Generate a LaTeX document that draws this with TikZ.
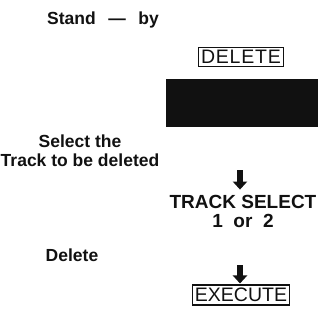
\documentclass[tikz,border=0pt]{standalone}
\usepackage{fontspec}
\setmainfont{Liberation Sans}
\usetikzlibrary{arrows.meta,positioning}
\definecolor{ink}{HTML}{111111}
\tikzset{
  lbl/.style={font=\fontsize{17.5}{19}\selectfont\bfseries, text=ink, align=center, inner sep=0pt},
  keybox/.style={draw=ink, line width=1.2pt, inner xsep=2.5pt, inner ysep=3pt,
    font=\fontsize{19.5}{20}\selectfont, text=ink},
  spaced/.style={font=\fontsize{19.5}{20}\selectfont\addfontfeature{LetterSpace=4}},
  screen/.style={fill=ink, minimum width=152pt, minimum height=48pt, inner sep=0pt},
  blockarr/.style={-{Triangle[width=14pt,length=8pt]}, line width=6pt, draw=ink}
}
\begin{document}
\begin{tikzpicture}[x=1pt, y=-1pt]
    \useasboundingbox (0,0) rectangle (330,324);
    \node[lbl] (standby) at (103,20) {Stand\;\, — \;\,by};
    \node[keybox, spaced] (delkey) at (241,57) {DELETE};
    \node[screen] (disp) at (242,103) {};
    \node[lbl] (selhint) at (80,151) {Select the\\Track to be deleted};
    \node[lbl, font=\fontsize{19}{19}\selectfont\bfseries] (tsel) at (243,211) {TRACK SELECT\\1~~or~~2};
    \node[lbl] (delhint) at (72,255) {Delete};
    \node[keybox] (exekey) at (241,295) {EXECUTE};
    \coordinate (a1) at (240,170);
    \coordinate (a2) at (240,265);
    \draw[blockarr, shorten >=5pt] (a1) -- (a1 |- tsel.north);
    \draw[blockarr, shorten >=1pt] (a2) -- (a2 |- exekey.north);
  \end{tikzpicture}
\end{document}
